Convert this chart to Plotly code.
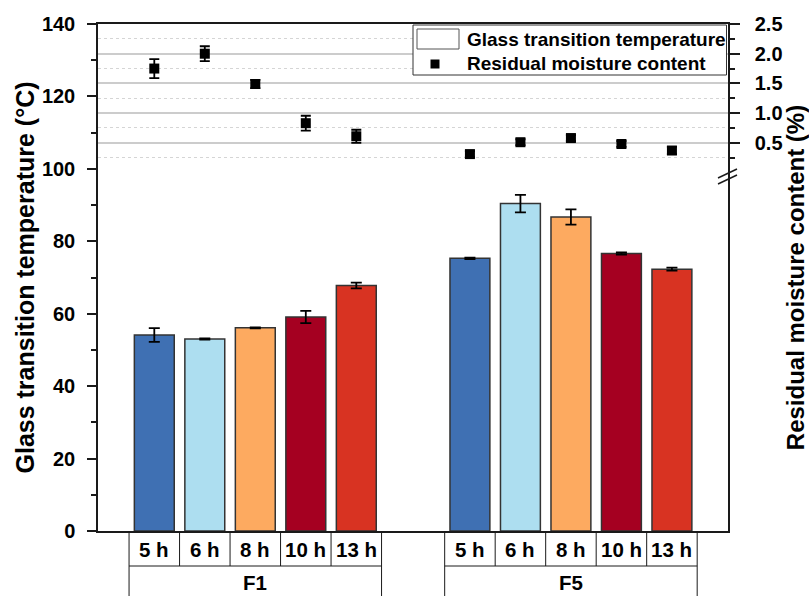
import plotly.graph_objects as go

# ---------------- data ----------------
groups = ["F1", "F5"]
hours = ["5 h", "6 h", "8 h", "10 h", "13 h"]
hour_colors = ["#3F70B3", "#ADDEF0", "#FDAA60", "#A50021", "#D83322"]

tg_F1 = [54.1, 53.0, 56.1, 59.1, 67.8]
tg_F1_err = [1.9, 0.15, 0.15, 1.7, 0.8]
tg_F5 = [75.3, 90.4, 86.7, 76.6, 72.3]
tg_F5_err = [0.2, 2.4, 2.1, 0.3, 0.4]

rmc_F1 = [1.75, 2.00, 1.49, 0.83, 0.61]
rmc_F1_err = [0.16, 0.125, 0.07, 0.125, 0.11]
rmc_F5 = [0.31, 0.51, 0.58, 0.48, 0.37]
rmc_F5_err = [0.05, 0.05, 0.05, 0.05, 0.06]

left_ticks = [0, 20, 40, 60, 80, 100, 120, 140]
right_ticks = [0.5, 1.0, 1.5, 2.0, 2.5]
right_minor = [0.25, 0.75, 1.25, 1.75, 2.25]

# ---------------- layout constants ----------------
W, H = 809, 596
ML, MR, MT, MB = 98, 81, 24, 65
PW, PH = W - ML - MR, H - MT - MB
GROUP_GAP = 6.25
FONT = "Liberation Sans, Arial, sans-serif"
AX = "#1a1a1a"


def px(xp):
    return (xp - ML) / PW


def py(yp):
    return (H - MB - yp) / PH


tg = [tg_F1, tg_F5]
tg_err = [tg_F1_err, tg_F5_err]
rmc = [rmc_F1, rmc_F5]
rmc_err = [rmc_F1_err, rmc_F5_err]

xs, ys, es, cs, ms, mes = [], [], [], [], [], []
for g in range(len(groups)):
    for i in range(len(hours)):
        xs.append(g * GROUP_GAP + i)
        ys.append(tg[g][i])
        es.append(tg_err[g][i])
        cs.append(hour_colors[i])
        ms.append(rmc[g][i])
        mes.append(rmc_err[g][i])

fig = go.Figure()
fig.add_trace(go.Bar(
    x=xs, y=ys, width=0.79,
    marker=dict(color=cs, line=dict(color="#333333", width=1.5)),
    error_y=dict(type="data", array=es, color="black", thickness=1.8, width=5.5),
    name="Glass transition temperature", showlegend=False,
))
fig.add_trace(go.Scatter(
    x=xs, y=ms, yaxis="y2", mode="markers",
    marker=dict(symbol="square", size=10, color="black"),
    error_y=dict(type="data", array=mes, color="black", thickness=1.8, width=5),
    name="Residual moisture content", showlegend=False,
))

first = -(154.3 - ML) / 50.5
span = PW / 50.5

fig.update_layout(
    width=W, height=H,
    margin=dict(l=ML, r=MR, t=MT, b=MB, pad=0, autoexpand=False),
    paper_bgcolor="white", plot_bgcolor="white",
    font=dict(family=FONT, color="black"),
    showlegend=False,
    xaxis=dict(range=[first, first + span], showgrid=False, zeroline=False,
               showline=True, linecolor=AX, linewidth=1.5, mirror=True,
               showticklabels=False, ticks="", automargin=False),
    yaxis=dict(range=[0, 140], tickvals=left_ticks, showgrid=False, zeroline=False,
               showline=True, linecolor=AX, linewidth=1.5, automargin=False,
               ticks="outside", ticklen=9, tickwidth=1.5, tickcolor=AX,
               minor=dict(dtick=10, ticks="outside", ticklen=5, tickwidth=1.5, tickcolor=AX),
               tickfont=dict(size=20, weight="bold", family=FONT),
               ticklabelstandoff=8,
               title=dict(text="Glass transition temperature (°C)",
                          font=dict(size=25, weight="bold", family=FONT), standoff=0)),
    yaxis2=dict(overlaying="y", side="right", range=[2.5 - PH / 59.4, 2.5],
                tickvals=right_ticks, ticktext=[f"{v:.1f}" for v in right_ticks],
                showgrid=True, gridcolor="#CCCCCC", gridwidth=1.5, zeroline=False,
                showline=True, linecolor=AX, linewidth=1.5, automargin=False,
                ticks="outside", ticklen=10, tickwidth=1.5, tickcolor=AX,
                minor=dict(tickvals=right_minor, ticks="outside", ticklen=5, tickwidth=1.5,
                           tickcolor=AX, showgrid=True, gridcolor="#D5D5D5", gridwidth=1,
                           griddash="3px,3px"),
                tickfont=dict(size=20, weight="bold", family=FONT),
                ticklabelstandoff=11,
                title=dict(text="Residual moisture content (%)",
                           font=dict(size=24, weight="bold", family=FONT), standoff=8)),
)

shapes = []
annotations = []
row1 = py(566)
row2 = py(620)
for g, name in enumerate(groups):
    x0 = g * GROUP_GAP - 0.5
    x1 = g * GROUP_GAP + len(hours) - 0.5
    for k in range(len(hours) + 1):
        xv = x0 + k
        bottom = row2 if k in (0, len(hours)) else row1
        shapes.append(dict(type="line", xref="x", yref="paper", x0=xv, x1=xv, y0=0, y1=bottom,
                           line=dict(color=AX, width=1)))
    shapes.append(dict(type="line", xref="x", yref="paper", x0=x0, x1=x1, y0=row1, y1=row1,
                       line=dict(color=AX, width=1)))
    for i, h in enumerate(hours):
        annotations.append(dict(x=g * GROUP_GAP + i, y=py(549), xref="x", yref="paper",
                                text=h, showarrow=False, xanchor="center", yanchor="middle",
                                font=dict(size=20.5, weight="bold", family=FONT)))
    annotations.append(dict(x=g * GROUP_GAP + (len(hours) - 1) / 2, y=py(582), xref="x",
                            yref="paper", text=name, showarrow=False, xanchor="center",
                            yanchor="middle", font=dict(size=20.5, weight="bold", family=FONT)))

# axis break marks on the right axis
for dy in (0, 6):
    shapes.append(dict(type="line", xref="paper", yref="paper",
                       x0=px(718), y0=py(178 + dy), x1=px(737), y1=py(169 + dy),
                       line=dict(color=AX, width=1.5)))

# legend box
shapes.append(dict(type="rect", xref="paper", yref="paper", x0=px(413), x1=px(726.5),
                   y0=py(75), y1=py(25), fillcolor="white", line=dict(color="#333333", width=1)))
shapes.append(dict(type="rect", xref="paper", yref="paper", x0=px(417), x1=px(459),
                   y0=py(49), y1=py(29), fillcolor="white", line=dict(color="#555555", width=1)))
shapes.append(dict(type="rect", xref="paper", yref="paper", x0=px(430.5), x1=px(439.5),
                   y0=py(68.5), y1=py(59.5), fillcolor="black", line=dict(color="black", width=0)))
annotations.append(dict(x=px(465), y=py(39.5), xref="paper", yref="paper",
                        text="Glass transition temperature", showarrow=False,
                        xanchor="left", yanchor="middle",
                        font=dict(size=19, weight="bold", family=FONT)))
annotations.append(dict(x=px(465), y=py(64), xref="paper", yref="paper",
                        text="Residual moisture content", showarrow=False,
                        xanchor="left", yanchor="middle",
                        font=dict(size=19, weight="bold", family=FONT)))

fig.update_layout(shapes=shapes, annotations=annotations)
fig.write_html("out.html")
